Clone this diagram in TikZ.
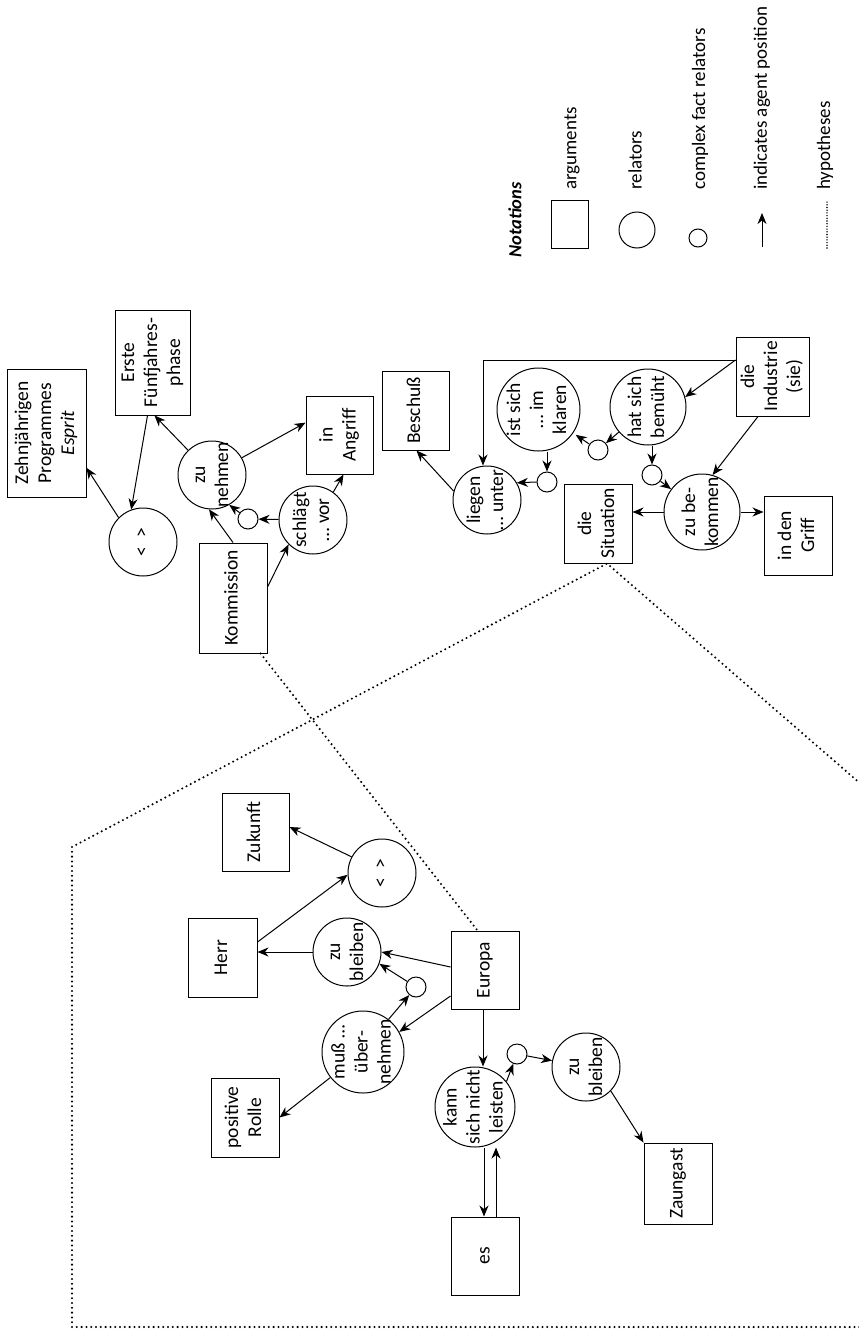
\documentclass[tikz,border=0pt]{standalone}
\usepackage{fontspec}
\setmainfont{Carlito}
\usepackage{graphicx}
\usetikzlibrary{arrows.meta,calc}
\newcommand{\mainfs}{\fontsize{19.5}{23}\selectfont}
\newcommand{\legfs}{\fontsize{19}{22}\selectfont}
\newcommand{\rtxt}[1]{\rotatebox{90}{\begin{tabular}{@{}c@{}}#1\end{tabular}}}
\newcommand{\ztxt}[1]{\makebox[0pt]{\raisebox{-0.5\height}[0pt][0pt]{\rtxt{#1}}}}
\tikzset{
  arg/.style={draw, line width=1pt, inner sep=0pt, font=\mainfs},
  rel/.style={draw, circle, line width=1pt, inner sep=0pt, font=\mainfs},
  cfr/.style={draw, circle, line width=1pt, inner sep=0pt, minimum size=20pt},
  ag/.style={-{Stealth[length=11pt,width=9pt,inset=3.5pt]}, line width=1pt},
  hyp/.style={line width=2.3pt, dash pattern=on 0pt off 4.8pt, line cap=round},
  hypleg/.style={line width=1.6pt, dash pattern=on 0pt off 2.7pt, line cap=round},
  legtxt/.style={anchor=south, inner sep=0pt, font=\legfs},
}
\begin{document}
\begin{tikzpicture}[x=1pt,y=-1pt]
\useasboundingbox (0,0) rectangle (859,1330);

% ---------- upper group ----------
\node[arg, minimum width=79pt, minimum height=128pt] (zehn) at (46.5,433) {\ztxt{Zehnjährigen\\Programmes\\\textit{Esprit}}};
\node[arg, minimum width=75pt, minimum height=105pt] (erste) at (152.5,362.5) {\ztxt{Erste\\Fünfjahres-\\phase}};
\node[rel, minimum size=68pt] (ltgt1) at (143,542) {\ztxt{<\;\,>}};
\node[rel, minimum size=68pt] (nehmen) at (212,475) {\ztxt{zu\\nehmen}};
\node[cfr] (sc1) at (248,519) {};
\node[arg, minimum width=68pt, minimum height=110pt] (kom) at (233,598) {\ztxt{Kommission}};
\node[rel, minimum size=68pt] (schlaegt) at (313,520) {\ztxt{schlägt\\… vor}};
\node[arg, minimum width=67pt, minimum height=78pt] (angriff) at (339.5,435) {\ztxt{in\\Angriff}};
\node[arg, minimum width=67pt, minimum height=79pt] (beschuss) at (415.5,410.5) {\ztxt{Beschuß}};
\node[rel, minimum size=68pt] (liegen) at (487,500) {\ztxt{liegen\\… unter}};
\node[cfr] (sc2) at (547,482) {};
\node[rel, minimum size=83pt] (klaren) at (538.5,409.5) {\ztxt{ist sich\\… im\\klaren}};
\node[rel, minimum size=76pt] (bemueht) at (648,407) {\ztxt{hat sich\\bemüht}};
\node[cfr] (sc3) at (598,450) {};
\node[cfr] (sc4) at (652,475) {};
\node[arg, minimum width=68pt, minimum height=79pt] (situation) at (598,523.5) {\ztxt{die\\Situation}};
\node[rel, minimum size=76pt] (bekommen) at (702,512) {\ztxt{zu be-\\kommen}};
\node[arg, minimum width=68pt, minimum height=79pt] (griff) at (798,535.5) {\ztxt{in den\\Griff}};
\node[arg, minimum width=73pt, minimum height=79pt] (industrie) at (772.5,376.5) {\ztxt{die\\Industrie\\(sie)}};

% ---------- lower group ----------
\node[arg, minimum width=67pt, minimum height=78pt] (zukunft) at (255.5,832) {\ztxt{Zukunft}};
\node[rel, minimum size=68pt] (ltgt2) at (382,873) {\ztxt{<\;\,>}};
\node[arg, minimum width=69pt, minimum height=79pt] (herr) at (222.5,957.5) {\ztxt{Herr}};
\node[rel, minimum size=68pt] (bleiben1) at (347,952) {\ztxt{zu\\bleiben}};
\node[arg, minimum width=68pt, minimum height=78pt] (europa) at (485,970) {\ztxt{Europa}};
\node[cfr] (sc5) at (416,987) {};
\node[rel, minimum size=82pt] (muss) at (363,1052) {\ztxt{muß …\\über-\\nehmen}};
\node[arg, minimum width=68pt, minimum height=79pt] (rolle) at (245,1117.5) {\ztxt{positive\\Rolle}};
\node[rel, minimum size=80pt] (kann) at (475,1107) {\ztxt{kann\\sich nicht\\leisten}};
\node[cfr] (sc6) at (517,1054) {};
\node[rel, minimum size=68pt] (bleiben2) at (586,1067) {\ztxt{zu\\bleiben}};
\node[arg, minimum width=68pt, minimum height=81pt] (zaun) at (678,1183.5) {\ztxt{Zaungast}};
\node[arg, minimum width=68pt, minimum height=78pt] (es) at (485,1256) {\ztxt{es}};

% ---------- connectors, upper ----------
\draw[ag] (nehmen) -- ([xshift=2pt]erste.south);
\draw[ag] ([xshift=-5pt]erste.south) -- (ltgt1.110);
\draw[ag] (ltgt1.135) -- (zehn.-41);
\draw[ag] (nehmen.30) -- (angriff.160);
\draw[ag] (schlaegt.54) -- ([xshift=4pt]angriff.south);
\draw[ag] (schlaegt) -- (sc1);
\draw[ag] (sc1) -- (nehmen.-60);
\draw[ag] (kom.north) -- (nehmen.-95);
\draw[ag] ([yshift=11pt]kom.east) -- (schlaegt.-135);
\draw[ag] (liegen.165) -- ([xshift=1pt]beschuss.south);
\coordinate (indL) at ([yshift=16.5pt]industrie.west);
\draw[ag] (indL) -| ([xshift=-4pt]liegen.north);
\draw[ag] (indL) -- (bemueht.15);
\draw[ag] ([xshift=-14.5pt]industrie.south) -- (bekommen.74);
\draw[ag] (bekommen.west) -- (bekommen.west -| situation.east);
\draw[ag] (bekommen.east) -- (bekommen.east -| griff.west);
\draw[ag] (sc4.north |- bemueht.south) -- (sc4.north);
\draw[ag] (sc4) -- (bekommen);
\draw[ag] (bemueht) -- (sc3);
\draw[ag, shorten >=3pt] (sc3) -- (klaren);
\draw[ag] (sc2.north |- klaren.south) -- (sc2.north);
\draw[ag] (sc2.west) -- (liegen.30);

% ---------- connectors, lower ----------
\draw[ag] (ltgt2.152) -- ([yshift=5pt]zukunft.east);
\draw[ag] ([yshift=15.5pt]herr.east) -- (ltgt2.183);
\draw[ag] (bleiben1.west) -- (bleiben1.west -| herr.east);
\draw[ag] ([yshift=3pt]europa.west) -- (bleiben1.east);
\draw[ag] (sc5) -- (bleiben1.-20);
\draw[ag] (muss.52) -- (sc5);
\draw[ag] ([yshift=-26pt]europa.west) -- (muss.29);
\draw[ag] ([xshift=-2pt]europa.south) -- ([xshift=-2pt]europa.south |- kann.north);
\draw[ag] ([xshift=9pt]kann.south) -- ([xshift=9pt]kann.south |- es.north);
\draw[ag] ([xshift=11pt]es.north) -- ([xshift=11pt]es.north |- kann.south);
\draw[ag] (kann.39) -- (sc6);
\draw[ag] (sc6) -- (bleiben2);
\draw[ag] (bleiben2.-44) -- (zaun.north west);
\draw[ag] (muss.218) -- (rolle.east);

% ---------- hypotheses ----------
\draw[hyp] ([xshift=-7pt]kom.south east) -- ([xshift=27pt]europa.north west);
\begin{scope}
  \clip (0,0) rectangle (859,1330);
  \coordinate (hs) at ([xshift=9pt]situation.south);
  \coordinate (hc1) at (72,847);
  \coordinate (hc2) at (72,1327);
  \coordinate (hc3) at (900,1327);
  \coordinate (hc4) at (900,818);
  \draw[hyp] (hc4) -- (hs) -- (hc1) -- (hc2) -- (hc3);
\end{scope}

% ---------- legend ----------
\node[legtxt, font=\fontsize{18.5}{22}\selectfont] (notat) at (515,258) {\rotatebox{90}{\textbf{\textit{Notations}}}};
\node[draw, line width=1pt, minimum width=37pt, minimum height=48pt, inner sep=0pt] (legbox) at (569.5,224) {};
\node[legtxt] (tx1) at (572,190) {\rotatebox{90}{arguments}};
\node[draw, circle, line width=1pt, minimum size=36pt, inner sep=0pt] (legcirc) at (637,230) {};
\node[legtxt] (tx2) at (635,190) {\rotatebox{90}{relators}};
\node[draw, circle, line width=1pt, minimum size=18pt, inner sep=0pt] (legsc) at (698,238) {};
\node[legtxt] (tx3) at (700,190) {\rotatebox{90}{complex fact relators}};
\coordinate (la1) at (762,247);
\coordinate (la2) at (762,213);
\draw[ag] (la1) -- (la2);
\node[legtxt] (tx4) at (762,190) {\rotatebox{90}{indicates agent position}};
\coordinate (ld1) at (827,248);
\coordinate (ld2) at (827,200);
\draw[hypleg] (ld1) -- (ld2);
\node[legtxt] (tx5) at (825,190) {\rotatebox{90}{hypotheses}};
\end{tikzpicture}
\end{document}
